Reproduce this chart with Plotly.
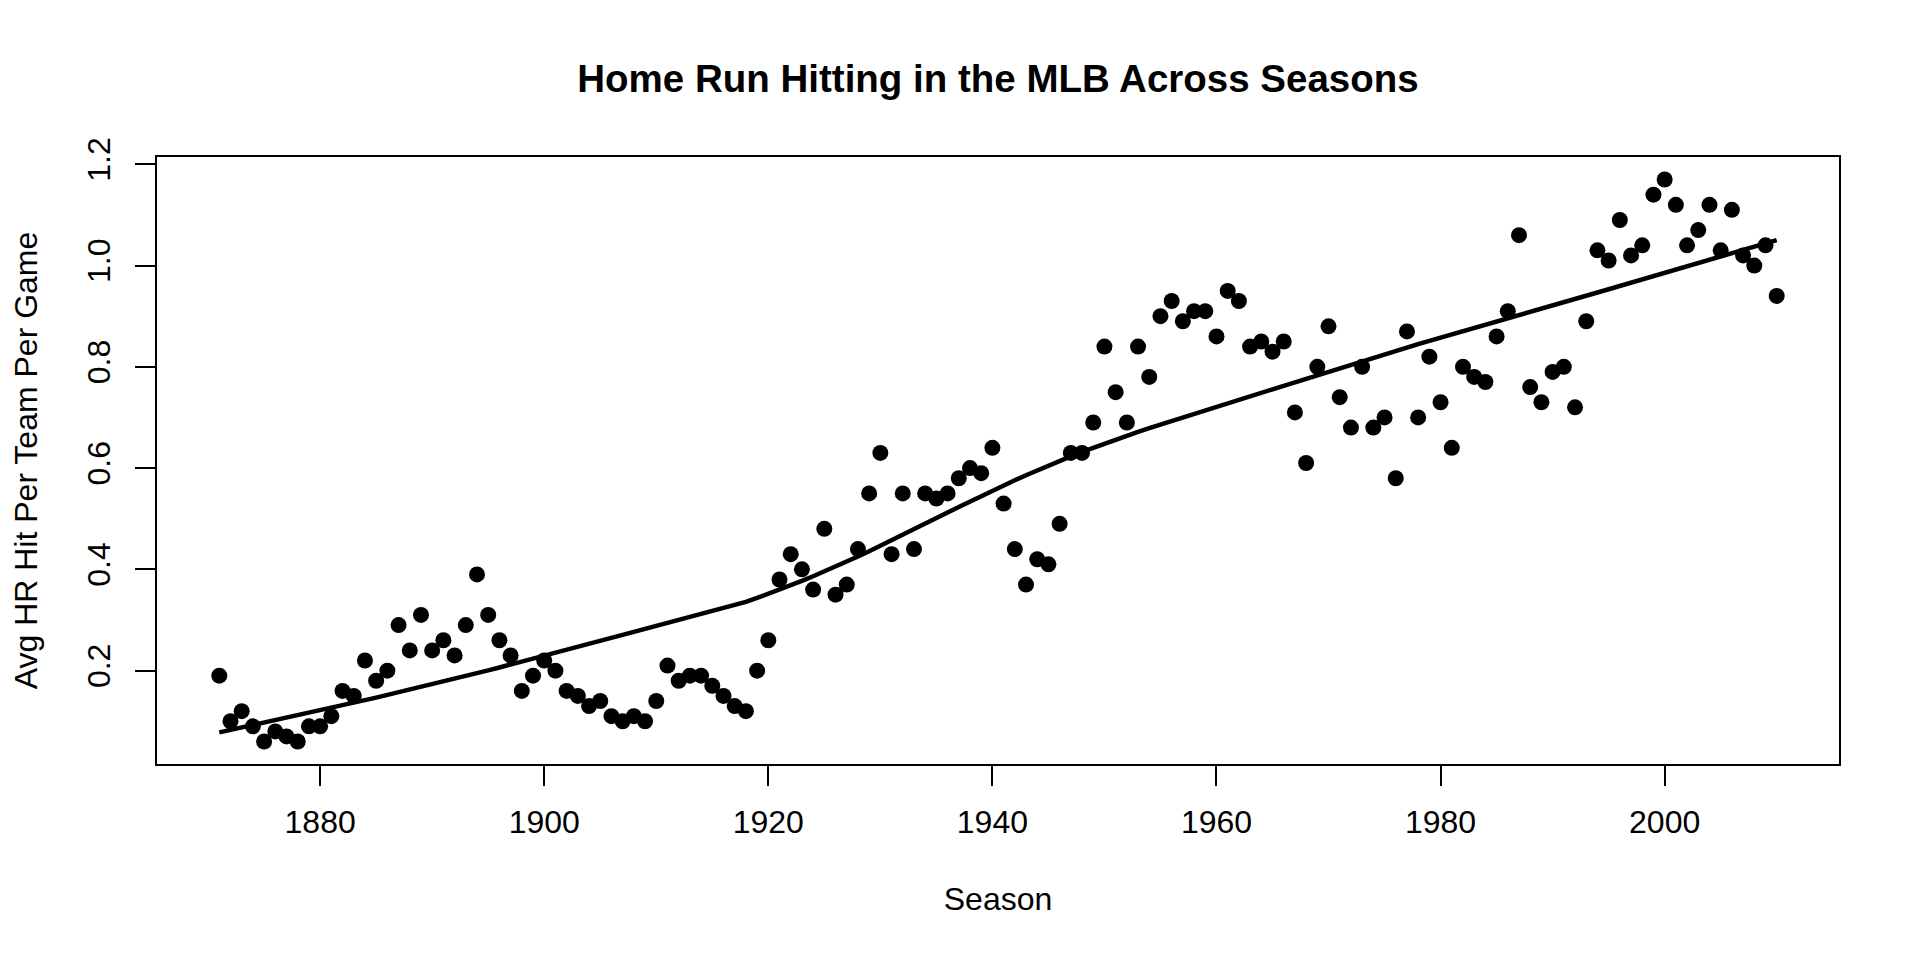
import numpy as np
import plotly.graph_objects as go

# Average home runs hit per team per game, by MLB season
seasons = list(range(1871, 2011))
avg_hr = [
    0.19, 0.10, 0.12, 0.09, 0.06, 0.08, 0.07, 0.06, 0.09, 0.09,  # 1871-1880
    0.11, 0.16, 0.15, 0.22, 0.18, 0.20, 0.29, 0.24, 0.31, 0.24,  # 1881-1890
    0.26, 0.23, 0.29, 0.39, 0.31, 0.26, 0.23, 0.16, 0.19, 0.22,  # 1891-1900
    0.20, 0.16, 0.15, 0.13, 0.14, 0.11, 0.10, 0.11, 0.10, 0.14,  # 1901-1910
    0.21, 0.18, 0.19, 0.19, 0.17, 0.15, 0.13, 0.12, 0.20, 0.26,  # 1911-1920
    0.38, 0.43, 0.40, 0.36, 0.48, 0.35, 0.37, 0.44, 0.55, 0.63,  # 1921-1930
    0.43, 0.55, 0.44, 0.55, 0.54, 0.55, 0.58, 0.60, 0.59, 0.64,  # 1931-1940
    0.53, 0.44, 0.37, 0.42, 0.41, 0.49, 0.63, 0.63, 0.69, 0.84,  # 1941-1950
    0.75, 0.69, 0.84, 0.78, 0.90, 0.93, 0.89, 0.91, 0.91, 0.86,  # 1951-1960
    0.95, 0.93, 0.84, 0.85, 0.83, 0.85, 0.71, 0.61, 0.80, 0.88,  # 1961-1970
    0.74, 0.68, 0.80, 0.68, 0.70, 0.58, 0.87, 0.70, 0.82, 0.73,  # 1971-1980
    0.64, 0.80, 0.78, 0.77, 0.86, 0.91, 1.06, 0.76, 0.73, 0.79,  # 1981-1990
    0.80, 0.72, 0.89, 1.03, 1.01, 1.09, 1.02, 1.04, 1.14, 1.17,  # 1991-2000
    1.12, 1.04, 1.07, 1.12, 1.03, 1.11, 1.02, 1.00, 1.04, 0.94,  # 2001-2010
]
x_ticks = [1880, 1900, 1920, 1940, 1960, 1980, 2000]
y_ticks = [0.2, 0.4, 0.6, 0.8, 1.0, 1.2]

FONT = "Liberation Sans, Arial, Helvetica, sans-serif"


def lowess(x, y, f=2 / 3, n_iter=3):
    # same smoother as R's lowess(): tricube weights + robustness passes
    x = np.asarray(x, dtype=float)
    y = np.asarray(y, dtype=float)
    n = len(x)
    ns = max(min(int(f * n + 1e-7), n), 2)
    robust = np.ones(n)
    fitted = np.zeros(n)
    for it in range(n_iter + 1):
        nleft, nright = 0, ns - 1
        for i in range(n):
            while nright < n - 1 and x[i] - x[nleft] > x[nright + 1] - x[i]:
                nleft += 1
                nright += 1
            h = max(x[i] - x[nleft], x[nright] - x[i])
            r = np.abs(x - x[i])
            w = np.where(r <= 0.999 * h, (1 - (r / h) ** 3) ** 3, 0.0)
            w[r <= 0.001 * h] = 1.0
            w *= robust
            sw = w.sum()
            xm = (w * x).sum() / sw
            ym = (w * y).sum() / sw
            sxx = (w * (x - xm) ** 2).sum()
            if sxx > 1e-12:
                b = (w * (x - xm) * (y - ym)).sum() / sxx
            else:
                b = 0.0
            fitted[i] = ym + b * (x[i] - xm)
        if it == n_iter:
            break
        res = np.abs(y - fitted)
        cmad = 6 * np.median(res)
        if cmad < 1e-7 * np.mean(np.abs(y)):
            break
        u = res / cmad
        robust = np.where(u <= 0.999, (1 - u ** 2) ** 2, 0.0)
        robust[u <= 0.001] = 1.0
    return fitted


smooth = lowess(seasons, avg_hr)

# R pads the data range by 4% on each side
x_pad = (max(seasons) - min(seasons)) * 0.04
y_pad = (max(avg_hr) - min(avg_hr)) * 0.04

fig = go.Figure()
fig.add_trace(
    go.Scatter(
        x=seasons,
        y=avg_hr,
        mode="markers",
        marker=dict(color="black", size=16),
        hovertemplate="<b>Season:</b> %{x}<br><b>Avg HR:</b> %{y}<extra></extra>",
    )
)
fig.add_trace(
    go.Scatter(
        x=seasons,
        y=smooth,
        mode="lines",
        line=dict(color="black", width=4.5),
        hoverinfo="skip",
    )
)

axis_style = dict(
    showline=True,
    mirror=True,
    linecolor="black",
    linewidth=2,
    ticks="outside",
    ticklen=20,
    tickwidth=2,
    tickcolor="black",
    showgrid=False,
    zeroline=False,
    tickfont=dict(family=FONT, size=32, color="black"),
)

# page body has an 8px margin, so the figure is 16px smaller than the window
fig.update_layout(
    width=1904,
    height=944,
    showlegend=False,
    paper_bgcolor="white",
    plot_bgcolor="white",
    margin=dict(l=149, r=73, t=149, b=188),
    title=dict(
        text="<b>Home Run Hitting in the MLB Across Seasons</b>",
        x=0.5,
        xref="paper",
        xanchor="center",
        y=1 - 71 / 944,
        yref="container",
        yanchor="middle",
        font=dict(family=FONT, size=38.5, color="black"),
    ),
    xaxis=dict(
        axis_style,
        range=[min(seasons) - x_pad, max(seasons) + x_pad],
        tickvals=x_ticks,
        ticklabelstandoff=9,
        title=dict(
            text="Season",
            font=dict(family=FONT, size=32, color="black"),
            standoff=48,
        ),
    ),
    yaxis=dict(
        axis_style,
        range=[min(avg_hr) - y_pad, max(avg_hr) + y_pad],
        tickvals=y_ticks,
        tickformat=".1f",
        tickangle=-90,
        ticklabelstandoff=12,
        title=dict(
            text="Avg HR Hit Per Team Per Game",
            font=dict(family=FONT, size=32, color="black"),
            standoff=39,
        ),
    ),
)

fig.write_html("out.html")
